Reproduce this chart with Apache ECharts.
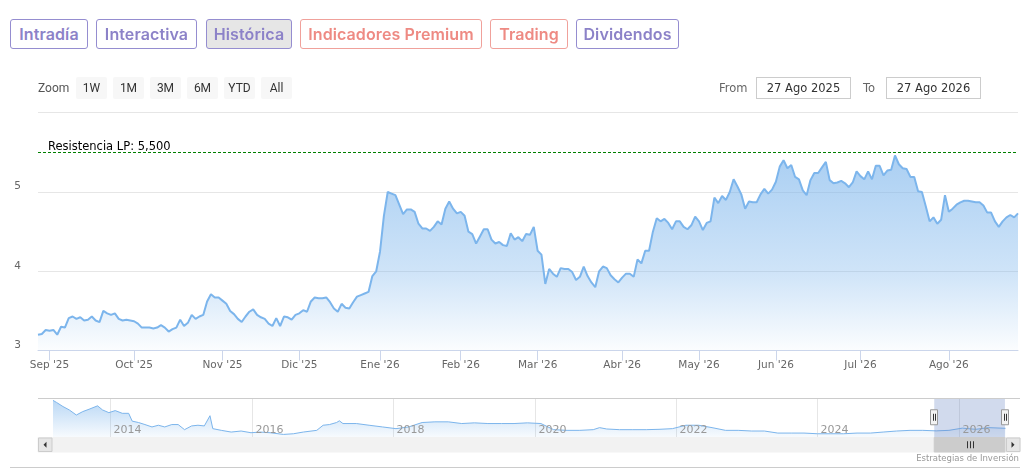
<!DOCTYPE html>
<html>
<head>
<meta charset="utf-8">
<script src="https://cdn.jsdelivr.net/npm/echarts@6/dist/echarts.min.js"></script>
<style>
html,body{margin:0;padding:0;background:#fff;width:1034px;height:472px;overflow:hidden;}
#chart{position:absolute;left:0;top:0;width:1034px;height:472px;}
.tab{position:absolute;top:19px;height:30px;box-sizing:border-box;border:1px solid #958dd0;border-radius:3px;
  font-family:Inter,'Noto Sans',sans-serif;font-weight:600;font-size:16px;color:#8c82c8;background:#fff;
  display:flex;align-items:center;justify-content:center;z-index:5;letter-spacing:0.1px;}
.tab.red{border-color:#f0a19b;color:#ee8a83;}
.tab.active{background:#e6e6e6;}
.zl{position:absolute;top:77px;height:22px;line-height:22px;font-family:Roboto,sans-serif;font-size:12px;color:#555;z-index:5;}
.zb{position:absolute;top:77px;height:22px;width:31px;background:#f7f7f7;border-radius:2px;font-family:Roboto,sans-serif;
  font-size:12px;color:#333;display:flex;align-items:center;justify-content:center;z-index:5;}
.ft{position:absolute;top:77px;height:22px;line-height:22px;font-family:'DejaVu Sans',sans-serif;font-size:11.5px;color:#666;z-index:5;}
.fi{position:absolute;top:77px;height:22px;box-sizing:border-box;border:1px solid #cccccc;font-family:'DejaVu Sans',sans-serif;
  font-size:11.5px;color:#333;display:flex;align-items:center;justify-content:center;z-index:5;background:#fff;}
</style>
</head>
<body>
<div id="chart"></div>

<div class="tab" style="left:10px;width:78px;">Intradía</div>
<div class="tab" style="left:96px;width:101px;">Interactiva</div>
<div class="tab active" style="left:206px;width:86px;">Histórica</div>
<div class="tab red" style="left:300px;width:182px;">Indicadores Premium</div>
<div class="tab red" style="left:490px;width:78px;">Trading</div>
<div class="tab" style="left:576px;width:103px;">Dividendos</div>

<div class="zl" style="left:38px;">Zoom</div>
<div class="zb" style="left:76px;">1W</div>
<div class="zb" style="left:113px;">1M</div>
<div class="zb" style="left:150px;">3M</div>
<div class="zb" style="left:187px;">6M</div>
<div class="zb" style="left:224px;">YTD</div>
<div class="zb" style="left:261px;">All</div>

<div class="ft" style="left:719px;">From</div>
<div class="fi" style="left:756px;width:95px;">27 Ago 2025</div>
<div class="ft" style="left:863px;">To</div>
<div class="fi" style="left:886px;width:95px;">27 Ago 2026</div>

<script>
// ---------------- DATA ----------------
const startDate = '2025-08-27';
const endDate = '2026-08-27';
const holidays = ['2025-12-25','2025-12-26','2026-01-01','2026-04-03','2026-04-06','2026-05-01'];
const monthNames = ['Ene','Feb','Mar','Abr','May','Jun','Jul','Ago','Sep','Oct','Nov','Dic'];

// daily closes (one per trading day)
const prices = [
3.20,3.21,3.26,3.25,3.26,3.20,3.30,3.29,3.41,3.43,
3.40,3.42,3.38,3.39,3.43,3.38,3.36,3.50,3.47,3.45,
3.47,3.40,3.38,3.39,3.38,3.37,3.34,3.29,3.29,3.29,
3.28,3.29,3.32,3.29,3.24,3.27,3.29,3.39,3.31,3.35,
3.45,3.40,3.43,3.45,3.62,3.71,3.67,3.67,3.63,3.59,
3.50,3.46,3.40,3.36,3.43,3.49,3.52,3.45,3.42,3.40,
3.34,3.31,3.41,3.31,3.43,3.42,3.39,3.45,3.47,3.51,
3.49,3.62,3.67,3.66,3.66,3.67,3.61,3.53,3.49,3.59,
3.54,3.53,3.61,3.68,3.70,3.72,3.74,3.94,4.00,4.25,
4.70,5.00,4.98,4.96,4.84,4.72,4.78,4.78,4.75,4.60,
4.54,4.54,4.51,4.56,4.63,4.59,4.79,4.88,4.79,4.73,
4.75,4.70,4.50,4.47,4.35,4.44,4.53,4.53,4.40,4.35,
4.37,4.33,4.32,4.48,4.40,4.43,4.38,4.47,4.46,4.56,
4.26,4.21,3.84,4.03,3.97,3.93,4.04,4.03,4.03,3.99,
3.89,3.93,4.06,3.94,3.86,3.80,4.00,4.06,4.04,3.95,
3.90,3.86,3.92,3.97,3.97,3.93,4.15,4.10,4.26,4.26,
4.50,4.67,4.63,4.66,4.61,4.53,4.63,4.63,4.56,4.53,
4.58,4.69,4.63,4.52,4.61,4.63,4.93,4.86,4.95,4.90,
5.00,5.16,5.07,4.97,4.79,4.88,4.87,4.87,4.97,5.04,
4.98,5.03,5.13,5.32,5.40,5.30,5.34,5.19,5.16,5.02,
4.96,5.15,5.24,5.24,5.31,5.38,5.15,5.11,5.12,5.14,
5.11,5.06,5.12,5.26,5.20,5.16,5.26,5.16,5.33,5.33,
5.21,5.27,5.28,5.46,5.35,5.30,5.29,5.19,5.19,5.01,
5.00,4.82,4.63,4.68,4.60,4.65,4.96,4.75,4.79,4.84,
4.87,4.89,4.89,4.88,4.87,4.87,4.83,4.74,4.74,4.63,
4.56,4.63,4.68,4.71,4.68,4.73
];

const resistance = 5.5;
const resistanceLabel = 'Resistencia LP: ';

// long history for the navigator (decimal years, prices)
const navYears = [2013.19,2013.24,2013.33,2013.42,2013.52,2013.61,2013.70,2013.82,2013.89,2013.98,
2014.07,2014.17,2014.26,2014.31,2014.40,2014.49,2014.59,2014.68,2014.77,2014.87,
2014.96,2015.05,2015.15,2015.24,2015.33,2015.41,2015.45,2015.57,2015.71,2015.85,
2015.99,2016.12,2016.26,2016.45,2016.59,2016.73,2016.92,2017.01,2017.10,2017.20,
2017.24,2017.29,2017.48,2017.66,2017.85,2018.04,2018.22,2018.41,2018.59,2018.78,
2018.97,2019.15,2019.34,2019.53,2019.71,2019.90,2020.09,2020.27,2020.46,2020.64,
2020.83,2020.92,2021.02,2021.20,2021.39,2021.58,2021.76,2021.95,2022.14,2022.32,
2022.51,2022.70,2022.88,2023.07,2023.25,2023.44,2023.63,2023.81,2024.00,2024.19,
2024.37,2024.56,2024.75,2024.93,2025.12,2025.31,2025.49,2025.68,2025.86,2026.05,
2026.24,2026.42,2026.66];
const navPrices = [21.2,20.0,17.6,15.6,12.6,14.6,16.0,18.0,15.6,14.0,
15.2,13.6,13.6,9.0,8.2,7.0,5.6,6.6,5.6,7.0,
7.0,4.0,6.2,6.6,6.2,12.2,4.6,3.6,2.6,3.2,
2.2,2.6,2.2,1.2,1.6,2.6,3.6,6.6,7.0,8.2,
9.2,7.6,7.6,6.6,5.6,4.6,5.6,8.2,8.6,8.6,
7.6,8.0,7.6,7.6,7.6,8.0,7.6,4.0,3.6,3.6,
4.0,5.2,4.4,4.0,4.0,4.0,4.2,4.6,6.6,6.6,
5.2,3.6,3.6,3.2,3.2,2.0,2.0,2.0,1.6,1.6,
1.6,2.0,2.0,2.6,3.2,3.6,3.6,3.3,3.6,4.9,
4.2,5.2,4.8];
const navYearTicks = [2014,2016,2018,2020,2022,2024,2026];
const navYMin = -0.6, navYMax = 22.6;

// ---------------- HELPERS ----------------
function tradingDays(){
  const out = [];
  let d = new Date(startDate + 'T00:00:00Z');
  const end = new Date(endDate + 'T00:00:00Z');
  while (d <= end){
    const wd = d.getUTCDay();
    const s = d.toISOString().slice(0,10);
    if (wd !== 0 && wd !== 6 && holidays.indexOf(s) < 0) out.push(s);
    d = new Date(d.getTime() + 86400000);
  }
  return out;
}
const dates = tradingDays();
const isMonthStart = dates.map((s,i) => i > 0 && s.slice(5,7) !== dates[i-1].slice(5,7));
function monthLabel(s){
  const m = parseInt(s.slice(5,7),10) - 1;
  return monthNames[m] + " '" + s.slice(2,4);
}
function decYear(s){
  const d = new Date(s + 'T00:00:00Z');
  const y = d.getUTCFullYear();
  const y0 = Date.UTC(y,0,1), y1 = Date.UTC(y+1,0,1);
  return y + (d.getTime() - y0) / (y1 - y0);
}

const FONT = 'DejaVu Sans';
const chart = echarts.init(document.getElementById('chart'), null, {renderer:'canvas'});

const option = {
  animation: false,
  backgroundColor: '#ffffff',
  textStyle: {fontFamily: FONT},
  grid: [
    {left: 38, right: 16, top: 112.7, bottom: 121.4},
    {left: 53, right: 28.5, top: 398, bottom: 34.5}
  ],
  xAxis: [
    {
      type: 'category', gridIndex: 0, data: dates, boundaryGap: false,
      axisLine: {lineStyle: {color: '#ccd6eb', width: 1}},
      axisTick: {show: true, interval: (i) => isMonthStart[i], length: 10, lineStyle: {color: '#ccd6eb'}},
      axisLabel: {interval: (i) => isMonthStart[i], formatter: (v) => monthLabel(v), color: '#666666',
                  fontSize: 10.5, margin: 9, fontFamily: FONT},
      splitLine: {show: false}
    },
    {
      type: 'value', gridIndex: 1, min: navYears[0], max: navYears[navYears.length-1],
      show: false, splitLine: {show: false}
    }
  ],
  yAxis: [
    {
      type: 'value', gridIndex: 0, min: 3, max: 6, interval: 1,
      axisLine: {show: false}, axisTick: {show: false},
      splitLine: {lineStyle: {color: '#e6e6e6', width: 1}},
      axisLabel: {formatter: (v) => v === 6 ? '' : String(v), color: '#666666', fontSize: 10.5,
                  margin: 17, verticalAlign: 'bottom', fontFamily: FONT}
    },
    {
      type: 'value', gridIndex: 1, min: navYMin, max: navYMax, show: false, splitLine: {show: false}
    }
  ],
  series: [
    {
      type: 'line', xAxisIndex: 0, yAxisIndex: 0, data: prices,
      showSymbol: false, symbol: 'none', z: 3,
      lineStyle: {color: '#7cb5ec', width: 2},
      itemStyle: {color: '#7cb5ec'},
      areaStyle: {
        origin: 'start',
        color: {type: 'linear', x: 0, y: 0, x2: 0, y2: 1, colorStops: [
          {offset: 0, color: 'rgba(124,181,236,0.92)'},
          {offset: 0.6, color: 'rgba(124,181,236,0.52)'},
          {offset: 1, color: 'rgba(124,181,236,0.04)'}
        ]}
      },
      markLine: {
        silent: true, symbol: ['none','none'],
        lineStyle: {color: '#008000', type: [3,2], width: 1},
        label: {position: 'insideStartTop', distance: [10, -1],
                formatter: resistanceLabel + resistance.toFixed(3).replace('.', ','),
                color: '#000000', fontSize: 11.5, fontFamily: FONT},
        data: [{yAxis: resistance}]
      }
    },
    {
      type: 'line', xAxisIndex: 1, yAxisIndex: 1,
      data: navYears.map((y,i) => [y, navPrices[i]]),
      showSymbol: false, symbol: 'none', z: 3,
      lineStyle: {color: '#7cb5ec', width: 1},
      areaStyle: {
        origin: 'start',
        color: {type: 'linear', x: 0, y: 0, x2: 0, y2: 1, colorStops: [
          {offset: 0, color: 'rgba(124,181,236,0.75)'},
          {offset: 1, color: 'rgba(124,181,236,0.08)'}
        ]}
      }
    }
  ]
};
chart.setOption(option);

// ---------------- NAVIGATOR DECORATION ----------------
const px = (v) => chart.convertToPixel({xAxisIndex: 1}, v);
const yTop = chart.convertToPixel({yAxisIndex: 1}, navYMax);
const yBot = chart.convertToPixel({yAxisIndex: 1}, navYMin);
const yMid = (yTop + yBot) / 2;
const xs = px(decYear(startDate));
const xe = px(decYear(endDate));
const sbH = 14.5;
const els = [];

navYearTicks.forEach((y) => {
  const x = Math.round(px(y)) + 0.5;
  els.push({type: 'line', z: 1, shape: {x1: x, y1: yTop, x2: x, y2: yBot}, style: {stroke: '#e6e6e6', lineWidth: 1}});
  els.push({type: 'text', z: 50, style: {x: x + 3, y: yBot - 7, text: String(y), fill: '#999999',
    font: '11px "DejaVu Sans"', textVerticalAlign: 'middle', verticalAlign: 'middle'}});
});
// outline
els.push({type: 'line', z: 40, shape: {x1: 38, y1: yTop + 0.5, x2: 1020, y2: yTop + 0.5}, style: {stroke: '#cccccc', lineWidth: 1}});
// mask
els.push({type: 'rect', z: 30, shape: {x: xs, y: yTop, width: xe - xs, height: yBot - yTop},
  style: {fill: 'rgba(102,133,194,0.3)'}});
// scrollbar track
els.push({type: 'rect', z: 30, shape: {x: 38, y: yBot, width: 982, height: sbH}, style: {fill: '#f2f2f2', stroke: '#f2f2f2'}});
// thumb
els.push({type: 'rect', z: 31, shape: {x: xs, y: yBot, width: xe - xs, height: sbH}, style: {fill: '#cccccc', stroke: '#cccccc'}});
const tc = (xs + xe) / 2, yc = yBot + sbH / 2;
[-3, 0, 3].forEach((dx) => {
  const x = Math.round(tc + dx) + 0.5;
  els.push({type: 'line', z: 32, shape: {x1: x, y1: yc - 3.5, x2: x, y2: yc + 3.5}, style: {stroke: '#333333', lineWidth: 1}});
});
// buttons
[[38, -1], [1006, 1]].forEach(([bx, dir]) => {
  els.push({type: 'rect', z: 33, shape: {x: bx + 0.5, y: yBot + 0.5, width: 13.5, height: sbH - 1},
    style: {fill: '#e6e6e6', stroke: '#cccccc', lineWidth: 1}});
  const cx = bx + 7;
  els.push({type: 'polygon', z: 34, shape: {points: dir < 0
      ? [[cx - 1.5, yc], [cx + 1.5, yc - 3], [cx + 1.5, yc + 3]]
      : [[cx + 1.5, yc], [cx - 1.5, yc - 3], [cx - 1.5, yc + 3]]},
    style: {fill: '#333333'}});
});
// handles
[xs, xe].forEach((hx) => {
  const x = Math.round(hx);
  els.push({type: 'rect', z: 60, shape: {x: x - 3.5, y: yMid - 8, width: 7, height: 15},
    style: {fill: '#f2f2f2', stroke: '#999999', lineWidth: 1}});
  [-1, 1].forEach((d) => {
    els.push({type: 'line', z: 61, shape: {x1: x + d + 0.5, y1: yMid - 4, x2: x + d + 0.5, y2: yMid + 3},
      style: {stroke: '#333333', lineWidth: 1}});
  });
});
// credits and bottom border
els.push({type: 'text', z: 50, style: {x: 1019, y: 459, text: 'Estrategias de Inversión', fill: '#999999',
  font: '8.5px "DejaVu Sans"', textAlign: 'right', align: 'right', textVerticalAlign: 'middle', verticalAlign: 'middle'}});
els.push({type: 'line', z: 50, shape: {x1: 10, y1: 467.5, x2: 1020, y2: 467.5}, style: {stroke: '#cccccc', lineWidth: 1}});

chart.setOption({graphic: {elements: els}});
</script>
</body>
</html>
